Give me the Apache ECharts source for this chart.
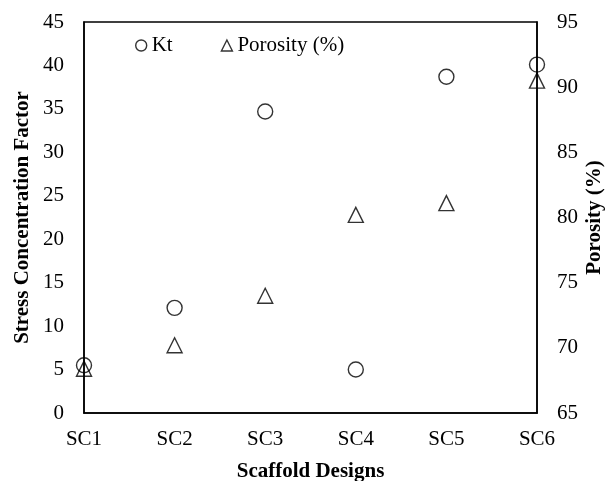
<!DOCTYPE html>
<html>
<head>
<meta charset="utf-8">
<script src="https://cdn.jsdelivr.net/npm/echarts@6/dist/echarts.min.js"></script>
<style>
  html, body { margin: 0; padding: 0; background: #fff; }
  #chart { width: 605px; height: 481px; }
</style>
</head>
<body>
<div id="chart"></div>
<script>
// Scaffold designs and their measured values
const designs = ['SC1', 'SC2', 'SC3', 'SC4', 'SC5', 'SC6'];
const ktValues = [5.5, 12.1, 34.7, 5.0, 38.7, 40.1];
const porosityValues = [68.4, 70.2, 74.0, 80.2, 81.1, 90.5];

const FONT = '"Liberation Serif", "Times New Roman", serif';
const INK = '#000';
const LABEL_SIZE = 21;
const TITLE_SIZE = 21;

const chart = echarts.init(document.getElementById('chart'), null, { renderer: 'canvas' });

const markerStyle = { color: 'rgba(0,0,0,0)', borderColor: INK, borderWidth: 1.4 };
const titleStyle = { fontFamily: FONT, fontSize: TITLE_SIZE, fontWeight: 'bold', color: INK };
const labelStyle = { fontFamily: FONT, fontSize: LABEL_SIZE, color: INK };

chart.setOption({
  backgroundColor: '#fff',
  animation: false,
  grid: {
    left: 84, right: 68, top: 22, bottom: 68,
    outerBoundsMode: 'none',
    show: true, borderColor: INK, borderWidth: 1.5, backgroundColor: 'transparent'
  },
  legend: {
    left: 135, top: 35, padding: 0,
    itemWidth: 11, itemHeight: 11, itemGap: 48,
    textStyle: { fontFamily: FONT, fontSize: LABEL_SIZE, color: INK },
    data: [
      { name: 'Kt', icon: 'circle', itemStyle: markerStyle },
      { name: 'Porosity (%)', icon: 'triangle', itemStyle: markerStyle }
    ]
  },
  xAxis: {
    type: 'category',
    data: designs,
    boundaryGap: false,
    name: 'Scaffold Designs',
    nameLocation: 'middle',
    nameGap: 48,
    nameMoveOverlap: false,
    nameTextStyle: titleStyle,
    axisLine: { lineStyle: { color: INK, width: 1.5 } },
    axisTick: { show: false },
    axisLabel: Object.assign({ margin: 16 }, labelStyle),
    splitLine: { show: false }
  },
  yAxis: [
    {
      type: 'value', min: 0, max: 45, interval: 5,
      name: 'Stress Concentration Factor',
      nameLocation: 'middle', nameGap: 51, nameRotate: 90,
      nameMoveOverlap: false,
      nameTextStyle: titleStyle,
      axisLine: { show: true, lineStyle: { color: INK, width: 1.5 } },
      axisTick: { show: false },
      axisLabel: Object.assign({ margin: 20 }, labelStyle),
      splitLine: { show: false }
    },
    {
      type: 'value', min: 65, max: 95, interval: 5,
      name: 'Porosity (%)',
      nameLocation: 'middle', nameGap: 47, nameRotate: 90,
      nameMoveOverlap: false,
      nameTextStyle: titleStyle,
      axisLine: { show: true, lineStyle: { color: INK, width: 1.5 } },
      axisTick: { show: false },
      axisLabel: Object.assign({ margin: 20 }, labelStyle),
      splitLine: { show: false }
    }
  ],
  series: [
    {
      name: 'Kt', type: 'scatter', yAxisIndex: 0,
      symbol: 'circle', symbolSize: 15,
      itemStyle: markerStyle,
      data: ktValues
    },
    {
      name: 'Porosity (%)', type: 'scatter', yAxisIndex: 1,
      symbol: 'triangle', symbolSize: 15,
      itemStyle: markerStyle,
      data: porosityValues
    }
  ]
});
</script>
</body>
</html>
